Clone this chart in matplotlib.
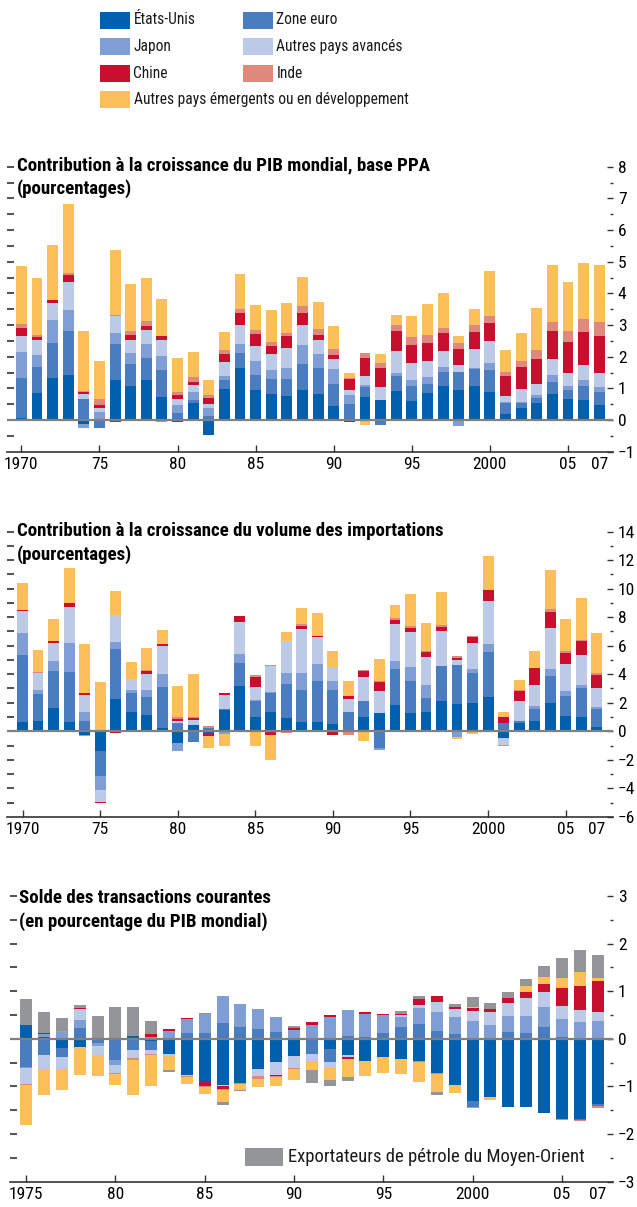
import matplotlib
matplotlib.use("Agg")
import matplotlib.pyplot as plt
import numpy as np
from matplotlib import font_manager
from matplotlib.patches import Rectangle

# police étroite si disponible
fl = font_manager.fontManager.ttflist
if any(f.name == "Liberation Sans Narrow" for f in fl):
    FAM, STRETCH = "Liberation Sans Narrow", "normal"
elif any(f.name == "Roboto Condensed" for f in fl):
    FAM, STRETCH = "Roboto Condensed", "normal"
elif any(f.name == "DejaVu Sans" and "condensed" in str(f.stretch) for f in fl):
    FAM, STRETCH = "DejaVu Sans", "condensed"
else:
    FAM, STRETCH = "Liberation Sans", "normal"
plt.rcParams["font.family"] = [FAM, "DejaVu Sans"]
plt.rcParams["font.stretch"] = STRETCH
plt.rcParams["axes.unicode_minus"] = True

W, H = 637, 1207

names = ["États-Unis", "Zone euro", "Japon", "Autres pays avancés",
         "Chine", "Inde", "Autres pays émergents ou en développement"]
colors = ["#0060ae", "#4a7cc0", "#809ed6", "#bccae8",
          "#c8102e", "#e0887c", "#fdbf57"]
me_name = "Exportateurs de pétrole du Moyen-Orient"
me_color = "#939598"

years = np.arange(1970, 2008)
years_ca = np.arange(1975, 2008)

# --- Contribution à la croissance du PIB mondial (1970-2007)
gdp_us = [0.05, 0.84, 1.34, 1.43, -0.14, -0.03, 1.28, 1.09, 1.28, 0.74, -0.05, 0.55, -0.47, 0.99,
          1.65, 0.96, 0.81, 0.77, 0.96, 0.81, 0.43, -0.05, 0.74, 0.62, 0.93, 0.59, 0.84, 1.06,
          0.96, 1.06, 0.87, 0.18, 0.37, 0.55, 0.81, 0.68, 0.62, 0.46]
gdp_ez = [1.28, 0.85, 1.10, 1.38, 0.65, -0.23, 1.13, 0.69, 0.69, 0.85, 0.21, 0.09, 0.12, 0.28,
          0.47, 0.47, 0.50, 0.53, 0.82, 0.82, 0.72, 0.52, 0.31, -0.17, 0.47, 0.50, 0.31, 0.47,
          0.56, 0.56, 0.72, 0.35, 0.16, 0.16, 0.38, 0.28, 0.47, 0.44]
gdp_jp = [0.82, 0.35, 0.72, 0.66, -0.12, 0.24, 0.35, 0.35, 0.44, 0.44, 0.25, 0.25, 0.25, 0.13,
          0.28, 0.44, 0.28, 0.35, 0.60, 0.47, 0.47, 0.28, 0.06, 0.02, 0.09, 0.19, 0.22, 0.16,
          -0.20, 0.02, 0.22, 0.03, 0.03, 0.09, 0.22, 0.13, 0.16, 0.13]
gdp_oa = [0.50, 0.50, 0.53, 0.88, 0.16, 0.13, 0.53, 0.41, 0.44, 0.50, 0.19, 0.22, 0.13, 0.44,
          0.60, 0.47, 0.50, 0.63, 0.63, 0.44, 0.31, 0.16, 0.28, 0.41, 0.69, 0.53, 0.50, 0.50,
          0.22, 0.60, 0.69, 0.19, 0.41, 0.35, 0.53, 0.41, 0.50, 0.47]
gdp_ch = [0.25, 0.09, 0.09, 0.22, 0.09, 0.09, -0.07, 0.13, 0.13, 0.13, 0.13, 0.09, 0.19, 0.25,
          0.38, 0.38, 0.25, 0.38, 0.38, 0.13, 0.13, 0.35, 0.56, 0.60, 0.63, 0.56, 0.56, 0.56,
          0.50, 0.53, 0.56, 0.63, 0.72, 0.78, 0.88, 0.97, 1.04, 1.16]
gdp_in = [0.13, 0.06, -0.03, 0.06, 0.02, 0.22, 0.03, 0.13, 0.16, -0.07, 0.09, 0.16, 0.09, 0.13,
          0.13, 0.13, 0.13, 0.09, 0.22, 0.22, 0.19, 0.03, 0.16, 0.16, 0.19, 0.25, 0.25, 0.16,
          0.19, 0.22, 0.22, 0.13, 0.16, 0.28, 0.28, 0.35, 0.41, 0.44]
gdp_oem = [1.85, 1.79, 1.76, 2.19, 1.88, 1.19, 2.04, 1.51, 1.35, 1.16, 1.10, 0.78, 0.50, 0.56,
           1.10, 0.78, 1.00, 0.94, 0.91, 0.85, 0.72, 0.13, -0.17, 0.28, 0.31, 0.66, 1.00, 1.10,
           0.22, 0.53, 1.44, 0.69, 0.91, 1.32, 1.79, 1.54, 1.76, 1.79]

# --- Contribution à la croissance du volume des importations (1970-2007)
imp_us = [0.65, 0.72, 1.64, 0.65, -0.26, -1.40, 2.27, 1.36, 1.14, 0.23, -0.82, 0.44, -0.19, 1.50,
          3.18, 1.00, 1.36, 0.93, 0.65, 0.65, 0.51, -0.05, 1.00, 1.28, 1.85, 1.28, 1.36, 2.13,
          1.92, 1.99, 2.41, -0.47, 0.58, 0.72, 1.99, 1.07, 1.00, 0.30]
imp_ez = [4.70, 1.89, 2.59, 3.50, 0.70, -1.75, 3.50, 1.33, 1.26, 2.87, 0.58, -0.75, 0.23, 0.07,
          1.61, 1.12, 1.33, 2.38, 2.24, 2.87, 2.38, 1.36, 1.12, -1.17, 2.52, 2.24, 0.98, 2.45,
          2.73, 2.10, 3.15, 0.58, 0.14, 0.84, 1.89, 1.40, 2.03, 1.26]
imp_jp = [1.54, 0.28, 0.70, 2.03, 0.63, -0.98, 0.49, 0.21, 0.49, 0.91, -0.56, 0.00, 0.00, -0.19,
          0.63, 0.07, 0.07, 0.77, 1.19, 1.19, 0.63, 0.00, 0.00, -0.14, 0.56, 0.98, 0.91, 0.00,
          -0.40, 0.28, 0.56, 0.00, 0.00, 0.21, 0.49, 0.35, 0.21, 0.14]
imp_oa = [1.54, 1.19, 1.26, 2.52, 1.19, -0.84, 1.89, 0.77, 1.12, 1.96, 0.14, 0.35, 0.00, 0.98,
          2.24, 0.91, 1.82, 2.24, 3.08, 1.89, 0.98, 0.91, 1.68, 1.54, 2.59, 2.45, 1.96, 2.45,
          0.35, 1.82, 3.01, -0.49, 1.40, 1.47, 2.87, 1.89, 2.10, 1.33]
imp_ch = [0.07, -0.07, 0.14, 0.28, 0.14, -0.07, -0.14, 0.00, 0.21, 0.14, 0.14, 0.14, -0.14, 0.14,
          0.42, 0.70, -0.26, 0.00, 0.21, 0.07, -0.26, 0.21, 0.42, 0.63, 0.28, 0.28, 0.35, 0.28,
          0.14, 0.42, 0.77, 0.42, 0.70, 1.19, 1.12, 0.77, 0.98, 0.91]
imp_in = [0.00, 0.07, 0.00, 0.00, -0.05, 0.00, 0.00, 0.00, 0.07, 0.00, 0.14, 0.07, 0.14, 0.00,
          0.00, 0.14, 0.07, -0.14, 0.14, 0.00, 0.00, -0.20, 0.07, 0.07, 0.14, 0.14, 0.07, 0.14,
          0.14, 0.07, 0.00, -0.07, 0.07, 0.00, 0.21, 0.14, 0.07, 0.14]
imp_oem = [1.89, 1.54, 1.54, 2.45, 3.43, 3.46, 1.68, 1.19, 1.54, 0.98, 2.17, 3.01, -0.84, -0.84,
           -0.05, -1.03, -1.75, 0.63, 1.12, 1.61, 1.12, 1.05, -0.68, 1.54, 0.91, 2.24, 1.96, 2.31,
           -0.14, -0.19, 2.38, 0.35, 0.70, 1.19, 2.73, 2.24, 2.94, 2.80]

# --- Solde des transactions courantes (1975-2007)
ca_us = [0.29, 0.04, -0.19, -0.17, 0.00, 0.01, 0.06, -0.04, -0.31, -0.76, -0.90, -0.97, -0.92,
         -0.63, -0.48, -0.36, 0.00, -0.21, -0.34, -0.46, -0.38, -0.42, -0.46, -0.71, -0.97,
         -1.30, -1.22, -1.43, -1.43, -1.55, -1.68, -1.68, -1.36]
ca_ez = [-0.59, -0.34, -0.19, 0.23, -0.08, -0.44, -0.23, -0.19, 0.00, 0.13, 0.13, 0.34, 0.25,
         0.21, 0.15, 0.00, -0.31, -0.27, 0.06, 0.04, 0.13, 0.25, 0.31, 0.17, 0.10, -0.13, 0.00,
         0.15, 0.13, 0.25, 0.04, -0.02, -0.06]
ca_jp = [-0.02, 0.06, 0.15, 0.17, -0.08, -0.10, 0.00, 0.04, 0.17, 0.29, 0.40, 0.57, 0.48, 0.42,
         0.31, 0.19, 0.29, 0.46, 0.55, 0.48, 0.38, 0.21, 0.34, 0.40, 0.36, 0.38, 0.29, 0.34,
         0.36, 0.42, 0.38, 0.36, 0.38]
ca_oa = [-0.34, -0.29, -0.25, 0.23, -0.18, -0.17, -0.17, -0.08, -0.04, -0.02, 0.00, -0.02, 0.00,
         -0.15, -0.27, -0.25, -0.15, -0.13, -0.04, 0.00, 0.00, 0.04, 0.06, 0.21, 0.17, 0.21,
         0.27, 0.27, 0.36, 0.31, 0.27, 0.25, 0.19]
ca_ch = [0.00, 0.02, 0.00, 0.02, 0.00, 0.00, 0.00, 0.06, 0.04, 0.02, -0.10, -0.06, 0.00, 0.00,
         -0.02, 0.04, 0.06, 0.04, -0.04, 0.04, 0.02, 0.02, 0.13, 0.13, 0.04, 0.06, 0.06, 0.10,
         0.13, 0.17, 0.38, 0.50, 0.65]
ca_in = [-0.02, 0.00, 0.02, 0.00, 0.00, -0.02, -0.04, -0.02, -0.02, -0.02, -0.02, -0.02, -0.02,
         -0.06, -0.04, -0.02, 0.00, 0.00, 0.00, 0.00, 0.00, 0.00, -0.02, -0.02, 0.00, -0.02,
         0.00, 0.00, 0.00, 0.00, -0.02, -0.02, -0.04]
ca_oem = [-0.84, -0.55, -0.44, -0.59, -0.43, -0.23, -0.73, -0.65, -0.29, -0.15, -0.13, -0.25,
          -0.13, -0.17, -0.17, -0.23, -0.19, -0.25, -0.38, -0.31, -0.34, -0.31, -0.42, -0.38,
          -0.17, 0.02, -0.06, 0.00, 0.13, 0.15, 0.21, 0.29, 0.06]
ca_me = [0.55, 0.44, 0.27, 0.06, 0.48, 0.65, 0.61, 0.27, -0.04, 0.00, 0.02, -0.06, -0.02, 0.00,
         0.00, 0.04, -0.27, -0.13, -0.08, -0.02, 0.00, 0.06, 0.06, -0.06, 0.06, 0.21, 0.13,
         0.13, 0.15, 0.23, 0.42, 0.46, 0.48]

TICK = 12.5    # graduations
LEG = 11.2     # légende du haut
LEG3 = 13.4    # légende du panneau 3
TITLE = 13.6   # titres des panneaux


def fx(px):
    return px / W


def fy(py):
    return 1 - py / H


def stack_bars(ax, x, series, cols, width):
    # positifs empilés vers le haut, négatifs vers le bas
    pos = np.zeros(len(x))
    neg = np.zeros(len(x))
    for vals, c in zip(series, cols):
        vals = np.asarray(vals, dtype=float)
        p = np.where(vals > 0, vals, 0)
        n = np.where(vals < 0, vals, 0)
        ax.bar(x, p, width, bottom=pos, color=c, linewidth=0, zorder=2)
        ax.bar(x, n, width, bottom=neg, color=c, linewidth=0, zorder=2)
        pos += p
        neg += n


def style(ax, ylim, major, left_step, xlim, xticks, xlabels):
    ax.set_xlim(*xlim)
    ax.set_ylim(*ylim)
    for s in ["top", "left", "right"]:
        ax.spines[s].set_visible(False)
    ax.spines["bottom"].set_color("#333333")
    ax.spines["bottom"].set_linewidth(1.2)
    ax.axhline(0, color="#808080", lw=1.6, zorder=3)

    ax.yaxis.tick_right()
    ax.set_yticks(np.arange(ylim[0], ylim[1] + 0.01, major))
    ax.set_yticks(np.arange(ylim[0], ylim[1] + 0.01, major / 2), minor=True)
    ax.tick_params(axis="y", which="major", direction="in", length=4.5, width=1,
                   color="#333333", pad=3.5, labelsize=TICK, left=False)
    ax.tick_params(axis="y", which="minor", direction="in", length=2.2, width=1,
                   color="#333333", left=False)

    sec = ax.secondary_yaxis("left")
    sec.set_yticks(np.arange(ylim[0] + left_step, ylim[1] + 0.01, left_step))
    sec.tick_params(direction="in", length=5, width=1.2, color="#333333", labelleft=False)
    sec.spines["left"].set_visible(False)

    ax.set_xticks(xticks)
    ax.set_xticklabels(xlabels)
    ax.tick_params(axis="x", direction="in", length=5, width=1, color="#333333",
                   pad=4, labelsize=TICK)
    ax.xaxis.get_major_ticks()[-1].tick1line.set_visible(False)


def title(x, y1, y2, l1, l2):
    fig.text(fx(x), fy(y1), l1, fontsize=TITLE, fontweight="bold", va="center", ha="left")
    fig.text(fx(x), fy(y2), l2, fontsize=TITLE, fontweight="bold", va="center", ha="left")


fig = plt.figure(figsize=(W / 100, H / 100), dpi=100)

# légende commune
for i, (nm, c) in enumerate(zip(names, colors)):
    row, col = divmod(i, 2)
    x0 = 100 if col == 0 else 243
    yc = [20, 46, 73, 99.5][row]
    fig.add_artist(Rectangle((fx(x0), fy(yc + 8.5)), 30 / W, 17 / H,
                             transform=fig.transFigure, color=c, lw=0))
    fig.text(fx(x0 + 33.5), fy(yc), nm, fontsize=LEG, va="center", ha="left", color="#1a1a1a")

# panneau 1
ax1 = fig.add_axes([fx(7), fy(451.7), (613 - 7) / W, (451.7 - 166.7) / H])
stack_bars(ax1, years, [gdp_us, gdp_ez, gdp_jp, gdp_oa, gdp_ch, gdp_in, gdp_oem], colors, 0.7)
style(ax1, (-1, 8), 1, 0.5, (1969.08, 2007.88),
      [1970, 1975, 1980, 1985, 1990, 1995, 2000, 2005, 2007],
      ["1970", "75", "80", "85", "90", "95", "2000", "05", "07"])
title(17, 165, 189, "Contribution à la croissance du PIB mondial, base PPA", "(pourcentages)")

# panneau 2
ax2 = fig.add_axes([fx(7), fy(816.9), (613 - 7) / W, (816.9 - 531.5) / H])
stack_bars(ax2, years, [imp_us, imp_ez, imp_jp, imp_oa, imp_ch, imp_in, imp_oem], colors, 0.7)
style(ax2, (-6, 14), 2, 1, (1969.0, 2008.05),
      [1970, 1975, 1980, 1985, 1990, 1995, 2000, 2005, 2007],
      ["1970", "75", "80", "85", "90", "95", "2000", "05", "07"])
title(17, 531, 555, "Contribution à la croissance du volume des importations", "(pourcentages)")

# panneau 3
ax3 = fig.add_axes([fx(10), fy(1181.7), (613 - 10) / W, (1181.7 - 896) / H])
stack_bars(ax3, years_ca, [ca_us, ca_ez, ca_jp, ca_oa, ca_ch, ca_in, ca_oem, ca_me],
           colors + [me_color], 0.67)
style(ax3, (-3, 3), 1, 0.5, (1974.1, 2007.86),
      [1975, 1980, 1985, 1990, 1995, 2000, 2005, 2007],
      ["1975", "80", "85", "90", "95", "2000", "05", "07"])
title(19, 898, 922, "Solde des transactions courantes", "(en pourcentage du PIB mondial)")
fig.add_artist(Rectangle((fx(245), fy(1166)), 38 / W, 18 / H,
                         transform=fig.transFigure, color=me_color, lw=0))
fig.text(fx(288), fy(1157), me_name, fontsize=LEG3, va="center", ha="left", color="#1a1a1a")

fig.savefig("out.png", dpi=100)
